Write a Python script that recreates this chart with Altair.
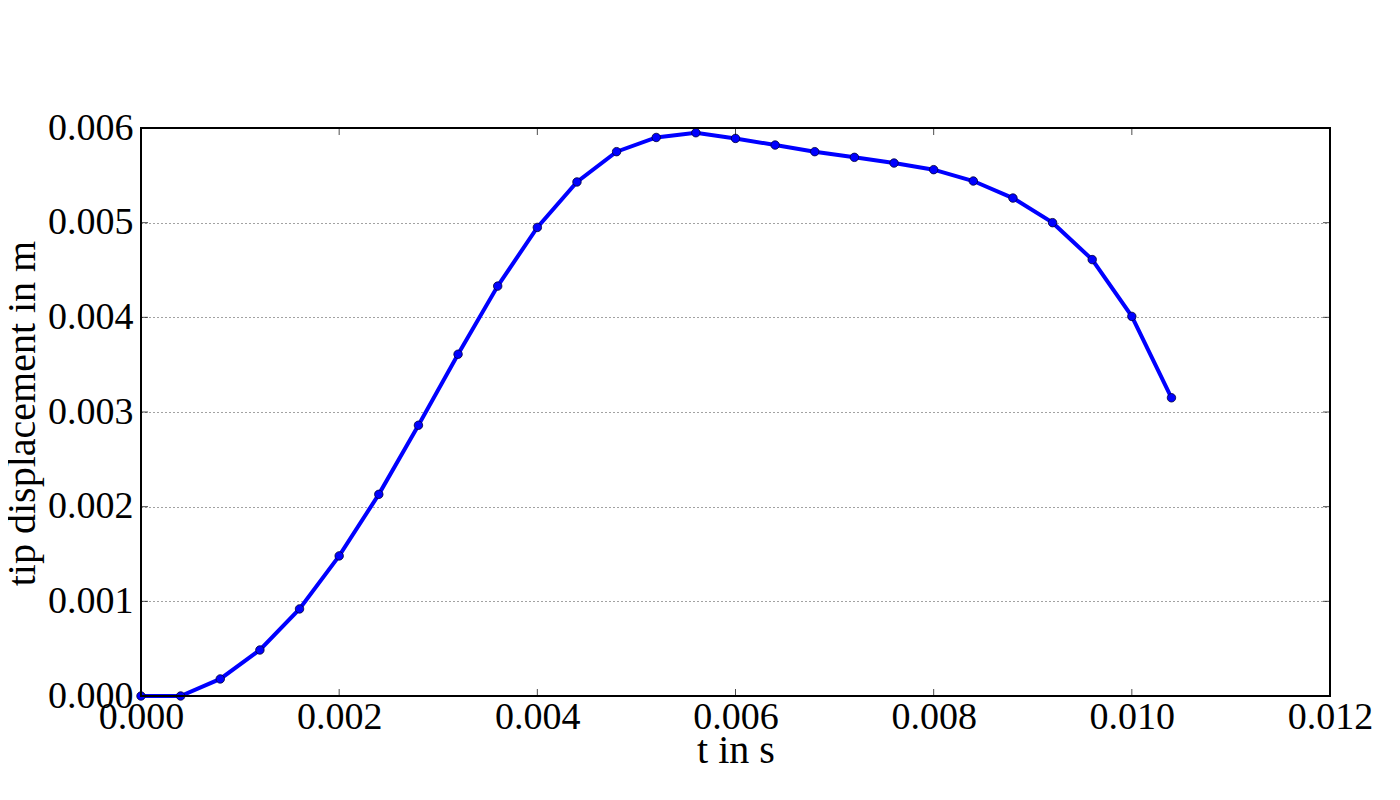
import altair as alt
import pandas as pd

t_values = [0.0000, 0.0004, 0.0008, 0.0012, 0.0016, 0.0020, 0.0024, 0.0028, 0.0032,
            0.0036, 0.0040, 0.0044, 0.0048, 0.0052, 0.0056, 0.0060, 0.0064, 0.0068,
            0.0072, 0.0076, 0.0080, 0.0084, 0.0088, 0.0092, 0.0096, 0.0100, 0.0104]
disp_values = [0.00000, 0.00000, 0.00018, 0.000486, 0.00092, 0.00148, 0.00213, 0.00286,
               0.00361, 0.00433, 0.00495, 0.00543, 0.00575, 0.00590, 0.00595, 0.00589,
               0.00582, 0.00575, 0.00569, 0.00563, 0.00556, 0.00544, 0.00526, 0.00500,
               0.00461, 0.00401, 0.00315]
x_ticks = [0.000, 0.002, 0.004, 0.006, 0.008, 0.010, 0.012]
y_ticks = [0.000, 0.001, 0.002, 0.003, 0.004, 0.005, 0.006]

W, H = 1189, 568
FONT = "Liberation Serif"
FS = 38

df = pd.DataFrame({"t": t_values, "d": disp_values})
xt = pd.DataFrame({"v": x_ticks})
yt = pd.DataFrame({"v": y_ticks})

xscale = alt.Scale(domain=[0, 0.012], nice=False, zero=False)
yscale = alt.Scale(domain=[0, 0.006], nice=False, zero=False)

xaxis = alt.Axis(values=x_ticks, format=".3f", title="t in s", grid=False, domain=False,
                 tickSize=0, labelPadding=2, labelFlush=False, labelOverlap=False,
                 labelFont=FONT, labelFontSize=FS, labelColor="black",
                 titleFont=FONT, titleFontSize=40, titleFontWeight="normal",
                 titleColor="black", titleY=54, titleBaseline="middle")
yaxis = alt.Axis(values=y_ticks, format=".3f", title="tip displacement in m", grid=True,
                 gridColor="#444444", gridDash=[1, 3], gridWidth=1, domain=False,
                 tickSize=0, labelPadding=8, labelOverlap=False, labelFlush=False,
                 labelFont=FONT, labelFontSize=FS, labelColor="black",
                 titleFont=FONT, titleFontSize=40, titleFontWeight="normal",
                 titleColor="black", titleX=-119, titleY=H / 2 + 1,
                 titleBaseline="middle", titleAngle=270)

line = alt.Chart(df).mark_line(color="#0000ff", strokeWidth=4).encode(
    x=alt.X("t:Q", scale=xscale, axis=xaxis),
    y=alt.Y("d:Q", scale=yscale, axis=yaxis),
)
pts = alt.Chart(df).mark_point(filled=True, color="#0000ff", size=72, opacity=1,
                               stroke="#000033", strokeWidth=0.8).encode(
    x=alt.X("t:Q", scale=xscale),
    y=alt.Y("d:Q", scale=yscale),
)

tick_len = 14
xb = alt.Chart(xt).mark_tick(orient="vertical", size=tick_len, thickness=1, color="black",
                             clip=True).encode(x=alt.X("v:Q", scale=xscale), y=alt.value(H))
xtp = alt.Chart(xt).mark_tick(orient="vertical", size=tick_len, thickness=1, color="black",
                              clip=True).encode(x=alt.X("v:Q", scale=xscale), y=alt.value(0))
yl = alt.Chart(yt).mark_tick(orient="horizontal", size=tick_len, thickness=1, color="black",
                             clip=True).encode(y=alt.Y("v:Q", scale=yscale), x=alt.value(0))
yr = alt.Chart(yt).mark_tick(orient="horizontal", size=tick_len, thickness=1, color="black",
                             clip=True).encode(y=alt.Y("v:Q", scale=yscale), x=alt.value(W))

frame = alt.Chart(xt).mark_rect(fill=None, fillOpacity=0, stroke="black", strokeWidth=1.5).encode(
    x=alt.value(0), x2=alt.value(W), y=alt.value(0), y2=alt.value(H)
)

chart = alt.layer(line, pts, xb, xtp, yl, yr, frame).properties(
    width=W, height=H,
    autosize=alt.AutoSizeParams(type="none"),
    padding={"left": 133, "top": 120, "right": 62, "bottom": 96},
).configure_view(stroke=None).configure(background="white")

chart.save("out.html", embed_options={"renderer": "svg", "actions": False})
